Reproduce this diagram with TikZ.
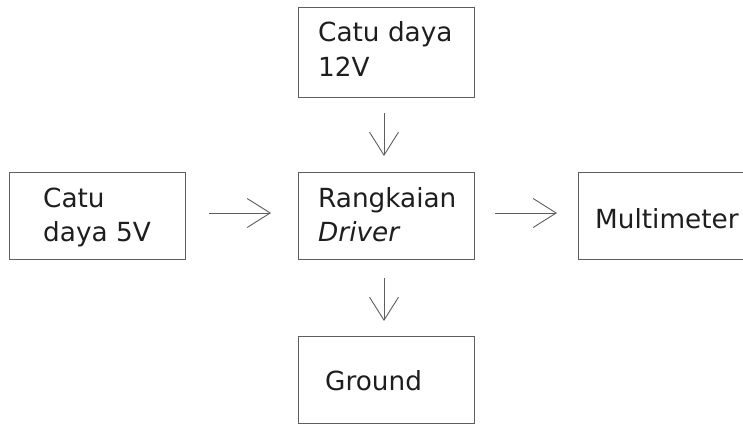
\documentclass[tikz,border=0pt]{standalone}
\usepackage{fontspec}
\setmainfont{DejaVu Sans}
\usetikzlibrary{arrows.meta}
\definecolor{linegray}{HTML}{5E5E5E}
\definecolor{textdark}{HTML}{1E1E1E}
\begin{document}
\begin{tikzpicture}[x=1pt,y=-1pt,
  box/.style={draw=linegray, line width=1pt, anchor=north west, inner sep=0pt},
  lbl/.style={anchor=base west, inner sep=0pt, text=textdark, font=\fontsize{26.3}{35}\selectfont, align=left},
  flow/.style={draw=linegray, line width=0.9pt, -{Straight Barb[length=23pt,width=29pt,line width=0.9pt]}}]
\useasboundingbox (0,0) rectangle (743,424);
\fill[white] (0,0) rectangle (743,424);
% boxes
\node[box, minimum width=176pt, minimum height=90pt] (top) at (298,7) {};
\node[box, minimum width=176pt, minimum height=87pt] (left) at (9,172) {};
\node[box, minimum width=176pt, minimum height=87pt] (mid) at (298,172) {};
\node[box, minimum width=190pt, minimum height=87pt] (right) at (578,172) {};
\node[box, minimum width=176pt, minimum height=87pt] (gnd) at (298,336) {};
% labels
\node[lbl] (ttop1) at (318,41) {Catu daya};
\node[lbl] (ttop2) at (318,76) {12V};
\node[lbl] (tleft1) at (43,207) {Catu};
\node[lbl] (tleft2) at (43,241) {daya 5V};
\node[lbl] (tmid1) at (318,207) {Rangkaian};
\node[lbl] (tmid2) at (318,241) {\itshape Driver};
\node[lbl] (tright) at (595,228) {Multimeter};
\node[lbl] (tgnd) at (325,390) {Ground};
% connector end points
\coordinate (a1s) at (384,113);
\coordinate (a1e) at (384,156);
\coordinate (a2s) at (209,213);
\coordinate (a2e) at (271,213);
\coordinate (a3s) at (495,213);
\coordinate (a3e) at (557,213);
\coordinate (a4s) at (384,278);
\coordinate (a4e) at (384,321);
\draw[flow] (a1s) -- (a1e);
\draw[flow] (a2s) -- (a2e);
\draw[flow] (a3s) -- (a3e);
\draw[flow] (a4s) -- (a4e);
\end{tikzpicture}
\end{document}
